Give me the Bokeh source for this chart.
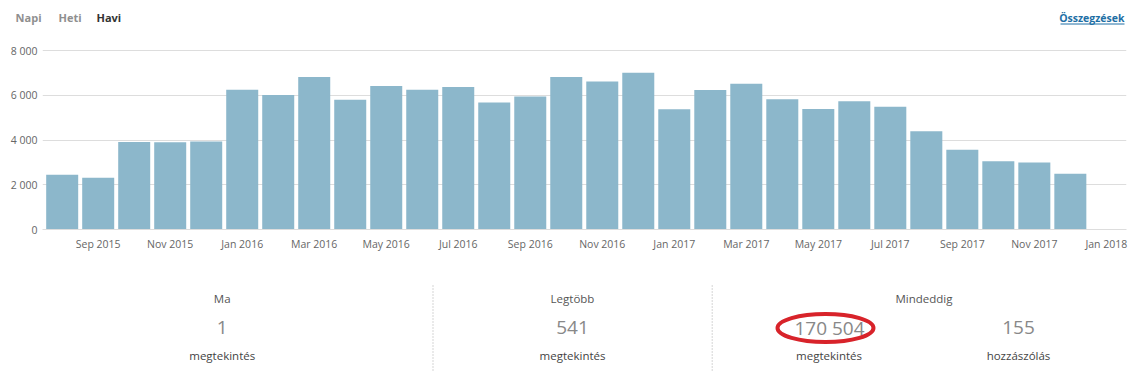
from bokeh.plotting import figure
from bokeh.layouts import column
from bokeh.models import Range1d, FixedTicker, Label, LinearAxis
from bokeh.core.properties import value
from bokeh.embed import file_html
from bokeh.resources import INLINE

FONT = "Open Sans"

# ---- data ----
months = ["Aug 2015", "Sep 2015", "Oct 2015", "Nov 2015", "Dec 2015",
          "Jan 2016", "Feb 2016", "Mar 2016", "Apr 2016", "May 2016", "Jun 2016",
          "Jul 2016", "Aug 2016", "Sep 2016", "Oct 2016", "Nov 2016", "Dec 2016",
          "Jan 2017", "Feb 2017", "Mar 2017", "Apr 2017", "May 2017", "Jun 2017",
          "Jul 2017", "Aug 2017", "Sep 2017", "Oct 2017", "Nov 2017", "Dec 2017",
          "Jan 2018"]
views = [2450, 2310, 3910, 3900, 3930,
         6250, 6010, 6820, 5800, 6410, 6250,
         6370, 5680, 5940, 6820, 6620, 7010,
         5370, 6240, 6520, 5820, 5390, 5730,
         5490, 4390, 3560, 3050, 2990, 2490]
y_ticks = [0, 2000, 4000, 6000, 8000]
y_tick_labels = ["0", "2 000", "4 000", "6 000", "8 000"]
tabs = ["Napi", "Heti", "Havi"]
link_text = "Összegzések"
stat_titles = ["Ma", "Legtöbb", "Mindeddig"]
stat_numbers = ["1", "541", "170 504", "155"]
stat_units = ["megtekintés", "megtekintés", "megtekintés", "hozzászólás"]

W = 1145
BL, BR = 42, 19          # frame borders shared by all three figures
XR = (BL, W - BR)        # pixel-like data range for header/stats

# ---- header ----
HH = 35
hdr = figure(width=W, height=HH, x_range=Range1d(*XR), y_range=Range1d(0, HH),
             output_backend="svg", toolbar_location=None,
             min_border_left=BL, min_border_right=BR, min_border_top=0, min_border_bottom=0,
             x_axis_type=None, y_axis_type=None, outline_line_color=None)
hdr.grid.visible = False
# first tab sits left of the shared frame edge: render it as the header's axis label
tab_axis = LinearAxis(ticker=FixedTicker(ticks=[18]),
                      major_label_overrides={18: tabs[0]},
                      axis_line_color=None, major_tick_line_color=None,
                      minor_tick_line_color=None, major_tick_out=0, major_tick_in=0,
                      major_label_standoff=1, major_label_text_font=FONT,
                      major_label_text_font_size="11px", major_label_text_color="#8f8f8f",
                      major_label_text_font_style="bold")
hdr.add_layout(tab_axis, "left")
for tx, txt, col in [(58, tabs[1], "#8f8f8f"), (96, tabs[2], "#333333")]:
    hdr.add_layout(Label(x=tx, y=18, text=txt, text_font=FONT, text_font_size="11px",
                         text_color=col, text_font_style="bold", text_baseline="middle"))
hdr.add_layout(Label(x=1124, y=18, text=link_text, text_font=FONT, text_font_size="10.5px",
                     text_color="#1e6fa5", text_font_style="bold", text_baseline="middle",
                     text_align="right"))
hdr.segment(x0=[1060], x1=[1124], y0=[11.5], y1=[11.5], line_color="#1e6fa5", line_width=1)

# ---- bar chart ----
xs = list(range(len(views)))
p = figure(width=W, height=227, x_range=Range1d(-0.547, 29.56), y_range=Range1d(0, 8090),
           output_backend="svg", toolbar_location=None,
           min_border_left=BL, min_border_right=BR, min_border_top=13, min_border_bottom=33,
           outline_line_color=None)
p.vbar(x=xs, top=views, width=0.889, color="#8cb7cb", line_color=None)

tick_idx = list(range(1, len(months), 2))
p.xaxis.ticker = FixedTicker(ticks=tick_idx)
p.xaxis.major_label_overrides = {i: months[i] for i in tick_idx}
p.xaxis.axis_line_color = "#dddddd"
p.xaxis.major_tick_line_color = None
p.xaxis.minor_tick_line_color = None
p.xaxis.major_tick_out = 0
p.xaxis.major_tick_in = 0
p.xaxis.major_label_text_font = FONT
p.xaxis.major_label_text_font_size = "10.5px"
p.xaxis.major_label_text_color = "#666666"
p.xaxis.major_label_standoff = 7

p.yaxis.ticker = FixedTicker(ticks=y_ticks)
p.yaxis.major_label_overrides = dict(zip(y_ticks, y_tick_labels))
p.yaxis.axis_line_color = None
p.yaxis.major_tick_line_color = None
p.yaxis.minor_tick_line_color = None
p.yaxis.major_tick_out = 0
p.yaxis.major_tick_in = 0
p.yaxis.major_label_text_font = FONT
p.yaxis.major_label_text_font_size = "10.5px"
p.yaxis.major_label_text_color = "#666666"
p.yaxis.major_label_standoff = 5

p.xgrid.visible = False
p.ygrid.ticker = FixedTicker(ticks=y_ticks)
p.ygrid.grid_line_color = "#dddddd"

# ---- stats ----
SH = 123
s = figure(width=W, height=SH, x_range=Range1d(*XR), y_range=Range1d(0, SH),
           output_backend="svg", toolbar_location=None,
           min_border_left=BL, min_border_right=BR, min_border_top=0, min_border_bottom=0,
           x_axis_type=None, y_axis_type=None, outline_line_color=None)
s.grid.visible = False
s.segment(x0=[432.5, 711.7], x1=[432.5, 711.7], y0=[15, 15], y1=[100, 100],
          line_color="#aaaaaa", line_width=1, line_dash="1 2")
s.text(x=[221.7, 572, 923.5], y=[87, 87, 87], text=stat_titles, text_font=value(FONT),
       text_font_size="11.5px", text_color="#555555", text_align="center",
       text_baseline="middle")
s.text(x=[221.7, 572, 829, 1018], y=[58, 58, 58, 58], text=stat_numbers,
       text_font=value(FONT), text_font_size="19px", text_color="#888888",
       text_align="center", text_baseline="middle")
s.text(x=[221.7, 572, 828.5, 1018], y=[30, 30, 30, 30], text=stat_units,
       text_font=value(FONT), text_font_size="11.5px", text_color="#444444",
       text_align="center", text_baseline="middle")
s.ellipse(x=[825], y=[57.5], width=[96], height=[28], fill_color=None,
          line_color="#d8232a", line_width=4)

layout = column(hdr, p, s)
open("out.html", "w").write(file_html(layout, INLINE))
